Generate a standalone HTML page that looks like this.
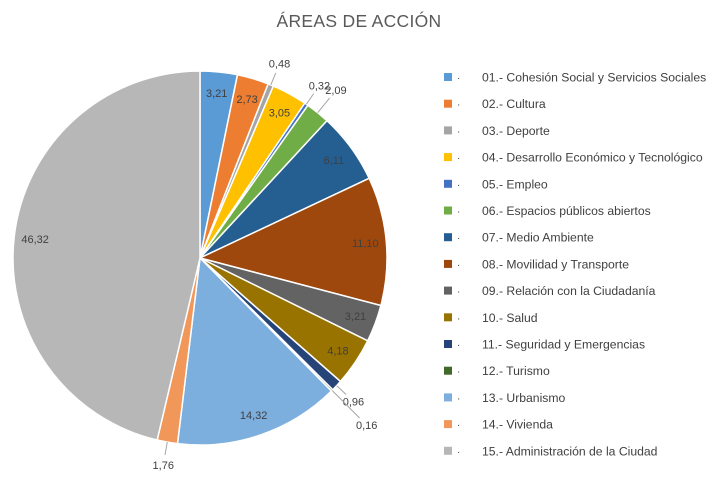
<!DOCTYPE html>
<html><head><meta charset="utf-8"><style>
body{margin:0;background:#fff;font-family:"Liberation Sans",sans-serif;}
#wrap{position:relative;width:720px;height:492px;overflow:hidden;background:#fff}
</style></head><body>
<div id="wrap">
<svg id="chart" width="720" height="492">
<text x="359" y="27" text-anchor="middle" font-size="17.5" fill="#595959" letter-spacing="0.3">ÁREAS DE ACCIÓN</text>
</svg>
</div>
<script>
const categories=["01.- Cohesión Social y Servicios Sociales","02.- Cultura","03.- Deporte","04.- Desarrollo Económico y Tecnológico","05.- Empleo","06.- Espacios públicos abiertos","07.- Medio Ambiente","08.- Movilidad y Transporte","09.- Relación con la Ciudadanía","10.- Salud","11.- Seguridad y Emergencias","12.- Turismo","13.- Urbanismo","14.- Vivienda","15.- Administración de la Ciudad"];
const values=[3.21,2.73,0.48,3.05,0.32,2.09,6.11,11.10,3.21,4.18,0.96,0.16,14.32,1.76,46.32];
const labels=["3,21","2,73","0,48","3,05","0,32","2,09","6,11","11,10","3,21","4,18","0,96","0,16","14,32","1,76","46,32"];
const colors=["#5B9BD5","#ED7D31","#A5A5A5","#FFC000","#4472C4","#70AD47","#255E91","#9E480E","#636363","#997300","#264478","#43682B","#7CAFDD","#F1975A","#B7B7B7"];
const NS="http://www.w3.org/2000/svg";
const svg=document.getElementById('chart');
const cx=200,cy=258,R=187;
const total=values.reduce((a,b)=>a+b,0);
function ang(v){return v/total*2*Math.PI;}
function pt(a,r){return [cx+r*Math.sin(a),cy-r*Math.cos(a)];}
let cum=0;
values.forEach((v,i)=>{
  const a0=ang(cum),a1=ang(cum+v);cum+=v;
  const p0=pt(a0,R),p1=pt(a1,R);
  const path=document.createElementNS(NS,'path');
  path.setAttribute('d',`M${cx},${cy}L${p0[0]},${p0[1]}A${R},${R} 0 ${a1-a0>Math.PI?1:0} 1 ${p1[0]},${p1[1]}Z`);
  path.setAttribute('fill',colors[i]);path.setAttribute('stroke','#fff');path.setAttribute('stroke-width','1.5');
  
  
  svg.appendChild(path);
  const am=(a0+a1)/2;
  const outside=v<2.5;
  const lr=outside?(v<0.2?236:(v>2?216:210)):166;
  const lp=pt(am,lr);
  if(outside){
    const e=pt(am,R),e2=pt(am,lr-10);
    const ln=document.createElementNS(NS,'line');
    ln.setAttribute('x1',e[0]);ln.setAttribute('y1',e[1]);ln.setAttribute('x2',e2[0]);ln.setAttribute('y2',e2[1]);
    ln.setAttribute('stroke','#a6a6a6');ln.setAttribute('stroke-width','1');
    
    
    svg.appendChild(ln);
  }
  const t=document.createElementNS(NS,'text');
  t.setAttribute('x',lp[0]);t.setAttribute('y',lp[1]+4);t.setAttribute('text-anchor','middle');
  t.setAttribute('font-size','11');t.setAttribute('fill','#404040');
  t.textContent=labels[i];
  
  
  svg.appendChild(t);
});
categories.forEach((c,i)=>{
  const y=77+i*26.7;
  const r=document.createElementNS(NS,'rect');
  r.setAttribute('x',444);r.setAttribute('y',y-4);r.setAttribute('width',8);r.setAttribute('height',8);r.setAttribute('fill',colors[i]);
  
  
  svg.appendChild(r);
  const d=document.createElementNS(NS,'text');
  d.setAttribute('x',457);d.setAttribute('y',y+4);d.setAttribute('font-size','10');d.setAttribute('fill','#404040');d.textContent='·';
  
  
  svg.appendChild(d);
  const t=document.createElementNS(NS,'text');
  t.setAttribute('x',482);t.setAttribute('y',y+4.5);t.setAttribute('font-size','12.2');t.setAttribute('fill','#404040');
  t.textContent=c;
  
  
  svg.appendChild(t);
});
</script>
</body></html>
